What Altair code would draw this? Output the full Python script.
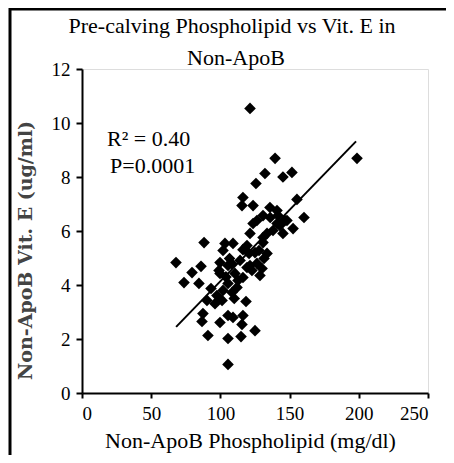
import altair as alt
import pandas as pd

phospholipid = [121.4, 139.5, 132.2, 151.7, 145.2, 125.7, 155.3, 116.3, 115.6, 123.6,
                135.8, 160.4, 198.7, 67.9, 79.5, 86.0, 73.7, 84.5, 91.0, 105.5,
                114.9, 125.0, 105.5, 88.2, 93.2, 90.3, 87.4, 86.7, 99.7, 105.5,
                109.1, 116.3, 115.6, 118.5, 96.1, 103.3, 109.1, 101.9, 99.7, 99.0,
                105.5, 114.2, 116.3, 120.7, 121.4, 123.6, 126.4, 130.8, 140.9, 141.6,
                143.0, 148.1, 138.0, 145.2, 130.8, 127.9, 131.5, 126.4, 121.4, 122.8,
                128.6, 110.5, 116.3, 112.0, 105.5, 101.9, 97.5, 101.2, 108.4, 152.5,
                146.7, 140.9, 133.7, 119.2, 130.8, 125.0, 133.7, 130.1, 106.6, 99.7,
                112.7, 119.2, 136.0, 104.0, 110.0, 108.0]
vit_e = [10.54, 8.69, 8.13, 8.17, 8.00, 7.76, 7.17, 7.24, 6.94, 6.94,
         6.87, 6.50, 8.69, 4.83, 4.46, 4.69, 4.09, 4.06, 2.13, 2.02,
         2.09, 2.31, 1.06, 5.57, 3.87, 3.43, 2.94, 2.65, 2.61, 2.87,
         2.80, 2.87, 2.54, 3.39, 3.31, 5.54, 5.54, 5.28, 4.83, 4.54,
         4.72, 4.91, 5.31, 5.17, 5.91, 6.28, 6.39, 6.57, 6.76, 6.57,
         6.20, 6.39, 6.02, 5.91, 5.76, 5.28, 4.98, 4.80, 4.72, 4.54,
         4.35, 4.43, 4.28, 3.91, 4.06, 3.80, 3.61, 3.43, 3.72, 6.09,
         6.39, 6.28, 5.91, 5.46, 5.57, 5.20, 5.17, 4.61, 4.98, 4.43,
         4.17, 4.65, 6.50, 4.30, 3.50, 4.80]

trend_x = [68.0, 198.0]
trend_y = [2.45, 9.32]

title_lines = ["Pre-calving Phospholipid vs Vit. E in", "Non-ApoB"]
stat_lines = ["R\u00b2 = 0.40", "P=0.0001"]
x_ticks = [0, 50, 100, 150, 200, 250]
y_ticks = [0, 2, 4, 6, 8, 10, 12]

pts = pd.DataFrame({"x": phospholipid, "y": vit_e})
trend = pd.DataFrame({"x": trend_x, "y": trend_y})
one = pd.DataFrame({"k": [0]})

W, H = 346, 324
SERIF = "Liberation Serif, Times New Roman, serif"

xs = alt.Scale(domain=[0, 250], nice=False, zero=False)
ys = alt.Scale(domain=[0, 12], nice=False, zero=False)

xaxis = alt.Axis(values=x_ticks, grid=False, title="Non-ApoB Phospholipid (mg/dl)",
                 domainColor="black", domainWidth=2, tickColor="black", tickWidth=2,
                 tickSize=5, labelFont=SERIF, labelFontSize=19, labelColor="black",
                 labelPadding=6, titleFont=SERIF, titleFontSize=22, titleFontWeight="normal",
                 titleColor="black", titleX=168, titleY=54, titleBaseline="alphabetic",
                 titleAlign="center")
yaxis = alt.Axis(values=y_ticks, grid=False, title="Non-ApoB Vit. E (ug/ml)",
                 domainColor="black", domainWidth=2, tickColor="black", tickWidth=2,
                 tickSize=6, labelFont=SERIF, labelFontSize=19, labelColor="black",
                 labelPadding=6, titleFont="DejaVu Serif", titleFontSize=19,
                 titleFontWeight="bold", titleColor="#444", titleAngle=270,
                 titleX=-57, titleY=181, titleAlign="center", titleBaseline="middle")

points = alt.Chart(pts).mark_point(shape="diamond", filled=True, color="black",
                                   size=135, opacity=1).encode(
    x=alt.X("x:Q", scale=xs, axis=xaxis),
    y=alt.Y("y:Q", scale=ys, axis=yaxis),
)

line = alt.Chart(trend).mark_line(color="black", strokeWidth=2).encode(
    x=alt.X("x:Q", scale=xs), y=alt.Y("y:Q", scale=ys))


def label(text, px, py, align="left", size=22):
    return alt.Chart(one).mark_text(text=text, font=SERIF, fontSize=size, align=align,
                                    baseline="alphabetic", color="black").encode(
        x=alt.value(px), y=alt.value(py))


stat1 = label(stat_lines[0], 25, 77)
stat2 = label(stat_lines[1], 28, 104)
title1 = label(title_lines[0], 150, -36, align="center")
title2 = label(title_lines[1], 154, -4, align="center")

frame_left = alt.Chart(one).mark_rule(color="black", strokeWidth=3).encode(
    x=alt.value(-72), y=alt.value(-61), y2=alt.value(420))
frame_top = alt.Chart(one).mark_rule(color="black", strokeWidth=3).encode(
    x=alt.value(-73), x2=alt.value(400), y=alt.value(-60))

chart = alt.layer(frame_left, frame_top, points, line, stat1, stat2, title1, title2).properties(
    width=W, height=H,
    autosize=alt.AutoSizeParams(type="none"),
    padding={"left": 74, "top": 61, "right": 18, "bottom": 62},
).configure_view(stroke="#888", strokeWidth=2).configure(background="white")

chart.save("out.html", embed_options={"renderer": "svg", "actions": False})
